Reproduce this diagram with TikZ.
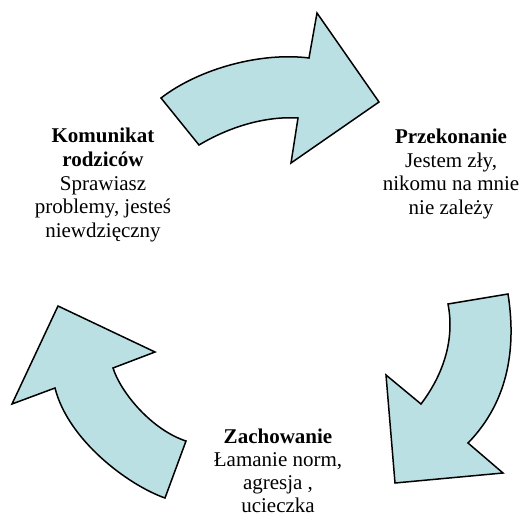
\documentclass[tikz,border=0pt]{standalone}
\usepackage{fontspec}
\setmainfont{Liberation Serif}
\definecolor{arrowfill}{RGB}{187,224,227}
\tikzset{
  cyclearrow/.style={draw=black, fill=arrowfill, line width=1.5pt, line join=miter},
  label/.style={align=center, inner sep=0pt, font=\fontsize{21}{23.6}\selectfont}
}
\begin{document}
\begin{tikzpicture}[x=1pt,y=-1pt]
\useasboundingbox (0,0) rectangle (524,518);
% top arrow
\draw[cyclearrow] (161,98) .. controls (200,68) and (262,52) .. (309,58)
  -- (317,13) -- (379,102) -- (291,163) -- (298,118)
  .. controls (265,116) and (229,127) .. (199,145) -- cycle;
% right arrow
\draw[cyclearrow] (448,304) -- (508,294)
  .. controls (516,345) and (510,400) .. (468,443)
  -- (503,473) -- (395,483) -- (386,375) -- (421,404)
  .. controls (443,375) and (455,340) .. (448,304) -- cycle;
% left arrow
\draw[cyclearrow] (58,306) -- (155,352) -- (113,368)
  .. controls (121,393) and (152,430) .. (186,441)
  -- (165,498)
  .. controls (128,485) and (68,440) .. (55,388)
  -- (12,404) -- cycle;
\node[label] (parent) at (103,185) {\textbf{Komunikat}\\\textbf{rodziców}\\Sprawiasz\\problemy, jesteś\\niewdzięczny};
\node[label] (belief) at (451,174) {\textbf{Przekonanie}\\Jestem zły,\\nikomu na mnie\\nie zależy};
\node[label, font=\fontsize{21}{23}\selectfont] (behav) at (278,471) {\textbf{Zachowanie}\\Łamanie norm,\\agresja ,\\ucieczka};
\end{tikzpicture}
\end{document}
